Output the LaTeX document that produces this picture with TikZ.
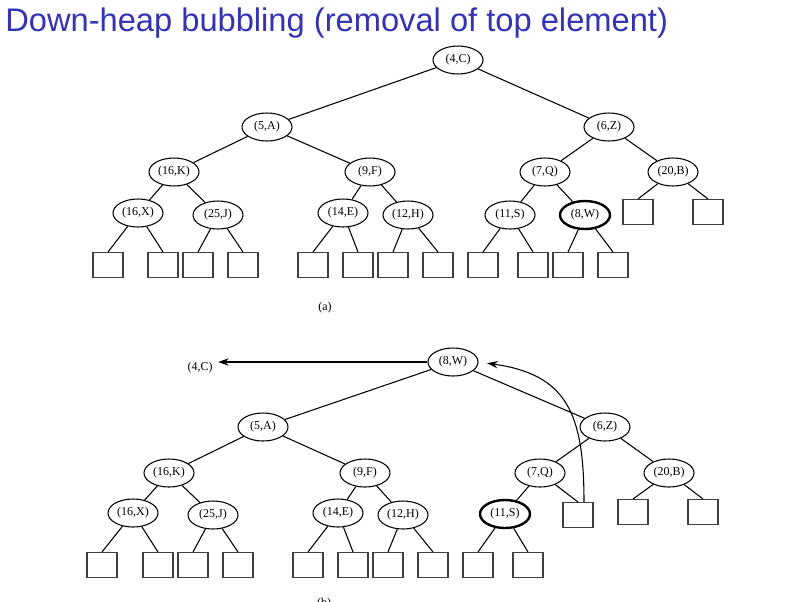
\documentclass[tikz,border=0pt]{standalone}
\usepackage{fontspec}
\setmainfont{Liberation Serif}
\newfontfamily\titlefont{Liberation Sans}
\usetikzlibrary{shapes.geometric,arrows.meta}
\definecolor{titleblue}{RGB}{51,51,179}

\begin{document}
\begin{tikzpicture}[x=0.75pt,y=0.75pt,
        key/.style={ellipse, draw, line width=0.8pt, minimum width=37.5pt, minimum height=21pt, inner sep=0pt},
        cur/.style={key, line width=1.8pt},
        leaf/.style={rectangle, draw=black!75, line width=0.8pt, minimum width=22.5pt, minimum height=18.75pt, inner sep=0pt},
        every edge/.style={draw, line width=0.8pt},
        font=\fontsize{9}{10}\selectfont]
        \useasboundingbox (0,0) rectangle (789,-601);
        \node[anchor=base west, inner sep=0pt, text=titleblue, font=\titlefont\fontsize{24.5}{28}\selectfont] (title) at (5,-31) {Down-heap bubbling (removal of top element)};

        % (a) before the removal
        \begin{scope}[every node/.style={key}]
        \node (C) at (458,-60) {(4,C)};
        \node (A) at (267,-127) {(5,A)};
        \node (Z) at (609,-127) {(6,Z)};
        \node (K) at (174,-172) {(16,K)};
        \node (F) at (370,-172) {(9,F)};
        \node (Q) at (545,-172) {(7,Q)};
        \node (B) at (673,-172) {(20,B)};
        \node (X) at (138,-213) {(16,X)};
        \node (J) at (218,-215) {(25,J)};
        \node (E) at (343,-213) {(14,E)};
        \node (H) at (408,-215) {(12,H)};
        \node (S) at (510,-215) {(11,S)};
        \node[cur] (W) at (585,-215) {(8,W)};
        \end{scope}

        \begin{scope}[every node/.style={leaf}]
        \node (Xl) at (108,-265) {};
        \node (Xr) at (163,-265) {};
        \node (Jl) at (198,-265) {};
        \node (Jr) at (243,-265) {};
        \node (El) at (313,-265) {};
        \node (Er) at (358,-265) {};
        \node (Hl) at (393,-265) {};
        \node (Hr) at (438,-265) {};
        \node (Sl) at (483,-265) {};
        \node (Sr) at (533,-265) {};
        \node (Wl) at (568,-265) {};
        \node (Wr) at (613,-265) {};
        \node (Bl) at (638,-212) {};
        \node (Br) at (708,-212) {};
        \end{scope}

        \path (C) edge (A) edge (Z);
        \path (A) edge (K) edge (F);
        \path (Z) edge (Q) edge (B);
        \path (K) edge (X) edge (J);
        \path (F) edge (E) edge (H);
        \path (Q) edge (S) edge (W);
        \path (B) edge (Bl.north) edge (Br.north);
        \path (X) edge (Xl.north) edge (Xr.north);
        \path (J) edge (Jl.north) edge (Jr.north);
        \path (E) edge (El.north) edge (Er.north);
        \path (H) edge (Hl.north) edge (Hr.north);
        \path (S) edge (Sl.north) edge (Sr.north);
        \path (W) edge (Wl.north) edge (Wr.north);

        \node (capa) at (325,-308) {(a)};

        % (b) the last entry moved to the root
        \begin{scope}[every node/.style={key}]
        \node (W2) at (453,-362) {(8,W)};
        \node (A2) at (263,-427) {(5,A)};
        \node (Z2) at (605,-427) {(6,Z)};
        \node (K2) at (169,-473) {(16,K)};
        \node (F2) at (365,-473) {(9,F)};
        \node (Q2) at (540,-473) {(7,Q)};
        \node (B2) at (669,-473) {(20,B)};
        \node (X2) at (133,-513) {(16,X)};
        \node (J2) at (213,-515) {(25,J)};
        \node (E2) at (338,-513) {(14,E)};
        \node (H2) at (403,-515) {(12,H)};
        \node[cur] (S2) at (505,-514) {(11,S)};
        \end{scope}

        \begin{scope}[every node/.style={leaf}]
        \node (Xl2) at (102,-565) {};
        \node (Xr2) at (158,-565) {};
        \node (Jl2) at (193,-565) {};
        \node (Jr2) at (238,-565) {};
        \node (El2) at (308,-565) {};
        \node (Er2) at (353,-565) {};
        \node (Hl2) at (388,-565) {};
        \node (Hr2) at (433,-565) {};
        \node (Sl2) at (478,-565) {};
        \node (Sr2) at (528,-565) {};
        \node (Qr2) at (578,-515) {};
        \node (Bl2) at (633,-512) {};
        \node (Br2) at (703,-512) {};
        \end{scope}

        \node[inner xsep=4pt] (C2) at (200,-368) {(4,C)};

        \path (W2) edge (A2) edge (Z2);
        \path (A2) edge (K2) edge (F2);
        \path (Z2) edge (Q2) edge (B2);
        \path (K2) edge (X2) edge (J2);
        \path (F2) edge (E2) edge (H2);
        \path (Q2) edge (S2) edge (Qr2.north);
        \path (B2) edge (Bl2.north) edge (Br2.north);
        \path (X2) edge (Xl2.north) edge (Xr2.north);
        \path (J2) edge (Jl2.north) edge (Jr2.north);
        \path (E2) edge (El2.north) edge (Er2.north);
        \path (H2) edge (Hl2.north) edge (Hr2.north);
        \path (S2) edge (Sl2.north) edge (Sr2.north);

        \begin{scope}[>={Stealth[length=8pt, width=5.5pt]}]
        \path [->] (W2) edge (W2 -| C2.east);
        \path [->] ([xshift=4.5pt]Qr2.north) edge[out=90, in=-8, looseness=1.3, shorten >=6.5pt] (W2.east);
        \end{scope}

        \node (capb) at (324,-604) {(b)};
    \end{tikzpicture}
\end{document}
